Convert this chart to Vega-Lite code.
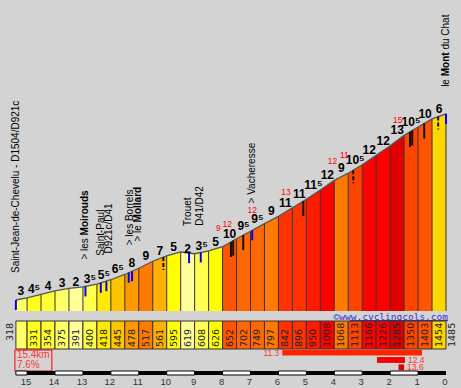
{
  "$schema": "https://vega.github.io/schema/vega-lite/v6.json",
  "background": "#d3d3d3",
  "padding": 0,
  "spacing": 0,
  "bounds": "flush",
  "config": {"view": {"stroke": null}, "axis": {"grid": false}},
  "datasets": {
    "seg": [
      {"k":1,"r0":15.4,"r1":15.0,"a0":318,"a1":331,"g":3,"lbl":"3"},
      {"k":2,"r0":15.0,"r1":14.5,"a0":331,"a1":354,"g":4.5,"lbl":"4⁵"},
      {"k":3,"r0":14.5,"r1":14.0,"a0":354,"a1":375,"g":4,"lbl":"4"},
      {"k":4,"r0":14.0,"r1":13.5,"a0":375,"a1":391,"g":3,"lbl":"3"},
      {"k":5,"r0":13.5,"r1":13.0,"a0":391,"a1":400,"g":2,"lbl":"2"},
      {"k":6,"r0":13.0,"r1":12.5,"a0":400,"a1":418,"g":3.5,"lbl":"3⁵"},
      {"k":7,"r0":12.5,"r1":12.0,"a0":418,"a1":445,"g":5.5,"lbl":"5⁵"},
      {"k":8,"r0":12.0,"r1":11.5,"a0":445,"a1":478,"g":6.5,"lbl":"6⁵"},
      {"k":9,"r0":11.5,"r1":11.0,"a0":478,"a1":517,"g":8,"lbl":"8"},
      {"k":10,"r0":11.0,"r1":10.5,"a0":517,"a1":561,"g":9,"lbl":"9"},
      {"k":11,"r0":10.5,"r1":10.0,"a0":561,"a1":595,"g":7,"lbl":"7"},
      {"k":12,"r0":10.0,"r1":9.5,"a0":595,"a1":619,"g":5,"lbl":"5"},
      {"k":13,"r0":9.5,"r1":9.0,"a0":619,"a1":608,"g":-2,"lbl":"2"},
      {"k":14,"r0":9.0,"r1":8.5,"a0":608,"a1":626,"g":3.5,"lbl":"3⁵"},
      {"k":15,"r0":8.5,"r1":8.0,"a0":626,"a1":652,"g":5,"lbl":"5"},
      {"k":16,"r0":8.0,"r1":7.5,"a0":652,"a1":702,"g":10,"lbl":"10"},
      {"k":17,"r0":7.5,"r1":7.0,"a0":702,"a1":749,"g":9.5,"lbl":"9⁵"},
      {"k":18,"r0":7.0,"r1":6.5,"a0":749,"a1":797,"g":9.5,"lbl":"9⁵"},
      {"k":19,"r0":6.5,"r1":6.0,"a0":797,"a1":842,"g":9,"lbl":"9"},
      {"k":20,"r0":6.0,"r1":5.5,"a0":842,"a1":896,"g":11,"lbl":"11"},
      {"k":21,"r0":5.5,"r1":5.0,"a0":896,"a1":950,"g":11,"lbl":"11"},
      {"k":22,"r0":5.0,"r1":4.5,"a0":950,"a1":1008,"g":11.5,"lbl":"11⁵"},
      {"k":23,"r0":4.5,"r1":4.0,"a0":1008,"a1":1068,"g":12,"lbl":"12"},
      {"k":24,"r0":4.0,"r1":3.5,"a0":1068,"a1":1113,"g":9,"lbl":"9"},
      {"k":25,"r0":3.5,"r1":3.0,"a0":1113,"a1":1166,"g":10.5,"lbl":"10⁵"},
      {"k":26,"r0":3.0,"r1":2.5,"a0":1166,"a1":1226,"g":12,"lbl":"12"},
      {"k":27,"r0":2.5,"r1":2.0,"a0":1226,"a1":1285,"g":12,"lbl":"12"},
      {"k":28,"r0":2.0,"r1":1.5,"a0":1285,"a1":1350,"g":13,"lbl":"13"},
      {"k":29,"r0":1.5,"r1":1.0,"a0":1350,"a1":1403,"g":10.5,"lbl":"10⁵"},
      {"k":30,"r0":1.0,"r1":0.5,"a0":1403,"a1":1454,"g":10,"lbl":"10"},
      {"k":31,"r0":0.5,"r1":0.0,"a0":1454,"a1":1485,"g":6,"lbl":"6"}
    ],
    "prof": [
      {"k":1,"r":15.4,"alt":318,"g":3},{"k":1,"r":15.0,"alt":331,"g":3},
      {"k":2,"r":15.0,"alt":331,"g":4.5},{"k":2,"r":14.5,"alt":354,"g":4.5},
      {"k":3,"r":14.5,"alt":354,"g":4},{"k":3,"r":14.0,"alt":375,"g":4},
      {"k":4,"r":14.0,"alt":375,"g":3},{"k":4,"r":13.5,"alt":391,"g":3},
      {"k":5,"r":13.5,"alt":391,"g":2},{"k":5,"r":13.0,"alt":400,"g":2},
      {"k":6,"r":13.0,"alt":400,"g":3.5},{"k":6,"r":12.5,"alt":418,"g":3.5},
      {"k":7,"r":12.5,"alt":418,"g":5.5},{"k":7,"r":12.0,"alt":445,"g":5.5},
      {"k":8,"r":12.0,"alt":445,"g":6.5},{"k":8,"r":11.5,"alt":478,"g":6.5},
      {"k":9,"r":11.5,"alt":478,"g":8},{"k":9,"r":11.0,"alt":517,"g":8},
      {"k":10,"r":11.0,"alt":517,"g":9},{"k":10,"r":10.5,"alt":561,"g":9},
      {"k":11,"r":10.5,"alt":561,"g":7},{"k":11,"r":10.0,"alt":595,"g":7},
      {"k":12,"r":10.0,"alt":595,"g":5},{"k":12,"r":9.5,"alt":619,"g":5},
      {"k":13,"r":9.5,"alt":619,"g":-2},{"k":13,"r":9.0,"alt":608,"g":-2},
      {"k":14,"r":9.0,"alt":608,"g":3.5},{"k":14,"r":8.5,"alt":626,"g":3.5},
      {"k":15,"r":8.5,"alt":626,"g":5},{"k":15,"r":8.0,"alt":652,"g":5},
      {"k":16,"r":8.0,"alt":652,"g":10},{"k":16,"r":7.5,"alt":702,"g":10},
      {"k":17,"r":7.5,"alt":702,"g":9.5},{"k":17,"r":7.0,"alt":749,"g":9.5},
      {"k":18,"r":7.0,"alt":749,"g":9.5},{"k":18,"r":6.5,"alt":797,"g":9.5},
      {"k":19,"r":6.5,"alt":797,"g":9},{"k":19,"r":6.0,"alt":842,"g":9},
      {"k":20,"r":6.0,"alt":842,"g":11},{"k":20,"r":5.5,"alt":896,"g":11},
      {"k":21,"r":5.5,"alt":896,"g":11},{"k":21,"r":5.0,"alt":950,"g":11},
      {"k":22,"r":5.0,"alt":950,"g":11.5},{"k":22,"r":4.5,"alt":1008,"g":11.5},
      {"k":23,"r":4.5,"alt":1008,"g":12},{"k":23,"r":4.0,"alt":1068,"g":12},
      {"k":24,"r":4.0,"alt":1068,"g":9},{"k":24,"r":3.5,"alt":1113,"g":9},
      {"k":25,"r":3.5,"alt":1113,"g":10.5},{"k":25,"r":3.0,"alt":1166,"g":10.5},
      {"k":26,"r":3.0,"alt":1166,"g":12},{"k":26,"r":2.5,"alt":1226,"g":12},
      {"k":27,"r":2.5,"alt":1226,"g":12},{"k":27,"r":2.0,"alt":1285,"g":12},
      {"k":28,"r":2.0,"alt":1285,"g":13},{"k":28,"r":1.5,"alt":1350,"g":13},
      {"k":29,"r":1.5,"alt":1350,"g":10.5},{"k":29,"r":1.0,"alt":1403,"g":10.5},
      {"k":30,"r":1.0,"alt":1403,"g":10},{"k":30,"r":0.5,"alt":1454,"g":10},
      {"k":31,"r":0.5,"alt":1454,"g":6},{"k":31,"r":0.0,"alt":1485,"g":6}
    ],
    "ticks": [
      {"r":15.4,"alt":318,"kind":"blue"},
      {"r":12.91,"alt":403,"kind":"blue"},
      {"r":12.36,"alt":426,"kind":"blue"},
      {"r":12.16,"alt":436,"kind":"blue"},
      {"r":11.36,"alt":489,"kind":"blue"},
      {"r":11.24,"alt":498,"kind":"blue"},
      {"r":9.2,"alt":612,"kind":"blue"},
      {"r":8.78,"alt":616,"kind":"blue"},
      {"r":6.94,"alt":755,"kind":"blue"},
      {"r":0.0,"alt":1485,"kind":"blue"},
      {"r":7.7,"alt":682,"kind":"black"},
      {"r":7.62,"alt":690,"kind":"black"},
      {"r":7.26,"alt":725,"kind":"black"},
      {"r":5.11,"alt":938,"kind":"black"},
      {"r":1.29,"alt":1372,"kind":"black"},
      {"r":1.21,"alt":1381,"kind":"black"},
      {"r":0.78,"alt":1425,"kind":"black"},
      {"r":10.12,"alt":587,"kind":"dashed"},
      {"r":3.32,"alt":1132,"kind":"dashed"},
      {"r":0.28,"alt":1468,"kind":"dashed"}
    ],
    "peaks": [
      {"r":8.15,"alt":644,"max":9},
      {"r":7.83,"alt":669,"max":12},
      {"r":6.94,"alt":755,"max":12},
      {"r":5.73,"alt":871,"max":13},
      {"r":4.06,"alt":1061,"max":12},
      {"r":3.64,"alt":1100,"max":11},
      {"r":1.73,"alt":1320,"max":15}
    ],
    "places": [
      {"r":15.4,"alt":318,"name":"Saint-Jean-de-Chevelu - D1504/D921c","after":""},
      {"r":12.94,"alt":402,"name":"> les","after":""},
      {"r":12.94,"alt":402,"name":"Moirouds","after":"> les"},
      {"r":12.36,"alt":426,"name":"Saint-Paul","after":""},
      {"r":12.08,"alt":441,"name":"D921c/D41","after":""},
      {"r":11.32,"alt":492,"name":"> les Borrels","after":""},
      {"r":11.03,"alt":515,"name":"> le","after":""},
      {"r":11.03,"alt":515,"name":"Mollard","after":"> le"},
      {"r":9.24,"alt":613,"name":"Trouet","after":""},
      {"r":8.81,"alt":615,"name":"D41/D42","after":""},
      {"r":6.95,"alt":754,"name":"> Vacheresse","after":""},
      {"r":0.0,"alt":1485,"name":"le","after":""},
      {"r":0.0,"alt":1485,"name":"Mont","after":"le"},
      {"r":0.0,"alt":1485,"name":"du Chat","after":"le Mont"}
    ],
    "maxgrad": [
      {"span":"5 km","from":5.86,"to":0.86,"max":11.3},
      {"span":"1 km","from":2.47,"to":1.47,"max":12.4},
      {"span":"200 m","from":1.7,"to":1.5,"max":13.6}
    ],
    "summary": [{"start":15.4,"end":0,"dist":"15.4km","avg":"7.6%"}],
    "kmwhite": [
      {"from":15.4,"to":15},{"from":14,"to":13},{"from":12,"to":11},{"from":10,"to":9},
      {"from":8,"to":7},{"from":6,"to":5},{"from":4,"to":3},{"from":2,"to":1}
    ],
    "km": [
      {"km":0},{"km":1},{"km":2},{"km":3},{"km":4},{"km":5},{"km":6},{"km":7},
      {"km":8},{"km":9},{"km":10},{"km":11},{"km":12},{"km":13},{"km":14},{"km":15}
    ]
  },
  "vconcat": [
    {
      "width": 461,
      "height": 311,
      "layer": [
        {
          "data": {"name": "prof"},
          "mark": {"type": "area", "strokeWidth": 0},
          "encoding": {
            "x": {"field": "r", "type": "quantitative", "scale": {"domain": [15.969, -0.537], "nice": false, "zero": false}, "axis": null},
            "y": {"field": "alt", "type": "quantitative", "stack": null, "scale": {"domain": [249, 2199], "nice": false, "zero": false}, "axis": null},
            "y2": {"datum": 249},
            "color": {"field": "g", "type": "quantitative", "scale": {"type": "linear", "domain": [2, 5, 6, 7, 8, 9, 10, 11, 12, 13], "range": ["#ffff99", "#ffff00", "#ffd700", "#ffb000", "#ff9900", "#ff7a00", "#ff5500", "#ff3300", "#ff0000", "#e00000"], "clamp": true, "interpolate": "rgb"}, "legend": null},
            "detail": {"field": "k", "type": "nominal"}
          }
        },
        {
          "data": {"name": "seg"},
          "mark": {"type": "rule", "color": "#333333", "strokeWidth": 1},
          "encoding": {
            "x": {"field": "r1", "type": "quantitative"},
            "y": {"field": "a1", "type": "quantitative"},
            "y2": {"datum": 249}
          }
        },
        {
          "data": {"name": "prof"},
          "mark": {"type": "line", "color": "#555555", "strokeWidth": 1.3},
          "encoding": {
            "x": {"field": "r", "type": "quantitative"},
            "y": {"field": "alt", "type": "quantitative"}
          }
        },
        {
          "data": {"name": "ticks"},
          "transform": [{"filter": "datum.kind == 'blue'"}],
          "mark": {"type": "rule", "color": "#0000ff", "strokeWidth": 2, "y2Offset": 10},
          "encoding": {
            "x": {"field": "r", "type": "quantitative"},
            "y": {"field": "alt", "type": "quantitative"},
            "y2": {"field": "alt"}
          }
        },
        {
          "data": {"name": "ticks"},
          "transform": [{"filter": "datum.kind == 'black'"}],
          "mark": {"type": "rule", "color": "#111111", "strokeWidth": 2, "y2Offset": 15},
          "encoding": {
            "x": {"field": "r", "type": "quantitative"},
            "y": {"field": "alt", "type": "quantitative"},
            "y2": {"field": "alt"}
          }
        },
        {
          "data": {"name": "ticks"},
          "transform": [{"filter": "datum.kind == 'dashed'"}],
          "mark": {"type": "rule", "color": "#111111", "strokeWidth": 2, "strokeDash": [4, 2], "y2Offset": 13},
          "encoding": {
            "x": {"field": "r", "type": "quantitative"},
            "y": {"field": "alt", "type": "quantitative"},
            "y2": {"field": "alt"}
          }
        },
        {
          "data": {"name": "seg"},
          "transform": [{"filter": "datum.k > 1"}],
          "mark": {"type": "text", "font": "Liberation Sans", "fontWeight": "bold", "fontSize": 12, "color": "#000000", "align": "center", "baseline": "alphabetic", "dx": 7, "dy": -1},
          "encoding": {
            "x": {"field": "r0", "type": "quantitative"},
            "y": {"field": "a1", "type": "quantitative"},
            "text": {"field": "lbl"}
          }
        },
        {
          "data": {"name": "seg"},
          "transform": [{"filter": "datum.k == 1"}],
          "mark": {"type": "text", "font": "Liberation Sans", "fontWeight": "bold", "fontSize": 12, "color": "#000000", "align": "center", "baseline": "alphabetic", "dx": 5, "dy": -3},
          "encoding": {
            "x": {"field": "r0", "type": "quantitative"},
            "y": {"field": "a1", "type": "quantitative"},
            "text": {"field": "lbl"}
          }
        },
        {
          "data": {"name": "peaks"},
          "mark": {"type": "text", "font": "Liberation Sans", "fontSize": 8.5, "color": "#ff0000", "align": "center", "baseline": "middle", "dy": -20},
          "encoding": {
            "x": {"field": "r", "type": "quantitative"},
            "y": {"field": "alt", "type": "quantitative"},
            "text": {"field": "max"}
          }
        },
        {
          "data": {"name": "places"},
          "transform": [{"filter": "datum.after == ''"}],
          "mark": {"type": "text", "font": "Liberation Sans", "fontSize": 10, "color": "#000000", "angle": 270, "align": "left", "baseline": "middle", "dx": 27},
          "encoding": {
            "x": {"field": "r", "type": "quantitative"},
            "y": {"field": "alt", "type": "quantitative"},
            "text": {"field": "name"}
          }
        },
        {
          "data": {"name": "places"},
          "transform": [{"filter": "datum.after == '> les'"}],
          "mark": {"type": "text", "font": "Liberation Sans", "fontSize": 10, "fontWeight": "bold", "color": "#000000", "angle": 270, "align": "left", "baseline": "middle", "dx": 51.2},
          "encoding": {
            "x": {"field": "r", "type": "quantitative"},
            "y": {"field": "alt", "type": "quantitative"},
            "text": {"field": "name"}
          }
        },
        {
          "data": {"name": "places"},
          "transform": [{"filter": "datum.after == '> le'"}],
          "mark": {"type": "text", "font": "Liberation Sans", "fontSize": 10, "fontWeight": "bold", "color": "#000000", "angle": 270, "align": "left", "baseline": "middle", "dx": 46.2},
          "encoding": {
            "x": {"field": "r", "type": "quantitative"},
            "y": {"field": "alt", "type": "quantitative"},
            "text": {"field": "name"}
          }
        },
        {
          "data": {"name": "places"},
          "transform": [{"filter": "datum.after == 'le'"}],
          "mark": {"type": "text", "font": "Liberation Sans", "fontSize": 10, "fontWeight": "bold", "color": "#000000", "angle": 270, "align": "left", "baseline": "middle", "dx": 37.6},
          "encoding": {
            "x": {"field": "r", "type": "quantitative"},
            "y": {"field": "alt", "type": "quantitative"},
            "text": {"field": "name"}
          }
        },
        {
          "data": {"name": "places"},
          "transform": [{"filter": "datum.after == 'le Mont'"}],
          "mark": {"type": "text", "font": "Liberation Sans", "fontSize": 10, "color": "#000000", "angle": 270, "align": "left", "baseline": "middle", "dx": 64.3},
          "encoding": {
            "x": {"field": "r", "type": "quantitative"},
            "y": {"field": "alt", "type": "quantitative"},
            "text": {"field": "name"}
          }
        }
      ]
    },
    {
      "width": 461,
      "height": 9,
      "data": {"values": [{"site": "©www.cyclingcols.com"}]},
      "mark": {"type": "text", "font": "DejaVu Sans Mono", "fontSize": 9.5, "color": "#3333cc", "align": "right", "baseline": "middle", "dx": 2, "dy": 1},
      "encoding": {
        "x": {"datum": 0, "type": "quantitative", "scale": {"domain": [15.969, -0.537], "nice": false, "zero": false}, "axis": null},
        "text": {"field": "site"}
      }
    },
    {
      "width": 461,
      "height": 1,
      "data": {"values": [{}]},
      "mark": {"type": "rect", "color": "#3333cc"},
      "encoding": {
        "x": {"datum": 3.437, "type": "quantitative", "scale": {"domain": [15.969, -0.537], "nice": false, "zero": false}, "axis": null},
        "x2": {"datum": -0.072}
      }
    },
    {
      "width": 461,
      "height": 28,
      "layer": [
        {
          "data": {"name": "seg"},
          "mark": {"type": "rect", "stroke": "#333333", "strokeWidth": 1},
          "encoding": {
            "x": {"field": "r0", "type": "quantitative", "scale": {"domain": [15.969, -0.537], "nice": false, "zero": false}, "axis": null},
            "x2": {"field": "r1"},
            "color": {"field": "g", "type": "quantitative", "scale": {"type": "linear", "domain": [2, 5, 6, 7, 8, 9, 10, 11, 12, 13], "range": ["#ffff99", "#ffff00", "#ffd700", "#ffb000", "#ff9900", "#ff7a00", "#ff5500", "#ff3300", "#ff0000", "#e00000"], "clamp": true, "interpolate": "rgb"}, "legend": null}
          }
        },
        {
          "data": {"name": "seg"},
          "transform": [{"filter": "datum.k > 1"}],
          "mark": {"type": "text", "font": "DejaVu Sans", "fontSize": 9.5, "color": "#222222", "angle": 270, "align": "left", "baseline": "middle", "dx": -12, "dy": 7},
          "encoding": {
            "x": {"field": "r0", "type": "quantitative"},
            "text": {"field": "a0"}
          }
        },
        {
          "data": {"name": "seg"},
          "transform": [{"filter": "datum.k == 1"}],
          "mark": {"type": "text", "font": "DejaVu Sans", "fontSize": 9.5, "color": "#222222", "angle": 270, "align": "left", "baseline": "middle", "dx": -6, "dy": -6},
          "encoding": {
            "x": {"field": "r0", "type": "quantitative"},
            "text": {"field": "a0"}
          }
        },
        {
          "data": {"name": "seg"},
          "transform": [{"filter": "datum.k == 31"}],
          "mark": {"type": "text", "font": "DejaVu Sans", "fontSize": 9.5, "color": "#222222", "angle": 270, "align": "left", "baseline": "middle", "dx": -12, "dy": 6},
          "encoding": {
            "x": {"field": "r1", "type": "quantitative"},
            "text": {"field": "a1"}
          }
        }
      ]
    },
    {
      "width": 461,
      "height": 22,
      "layer": [
        {
          "data": {"name": "maxgrad"},
          "mark": {"type": "bar"},
          "encoding": {
            "x": {"field": "from", "type": "quantitative", "scale": {"domain": [15.969, -0.537], "nice": false, "zero": false}, "axis": null},
            "x2": {"field": "to"},
            "y": {"field": "span", "type": "nominal", "sort": ["5 km", "1 km", "200 m"], "scale": {"paddingInner": 0.2, "paddingOuter": 0.1}, "axis": null},
            "color": {"field": "max", "type": "quantitative", "scale": {"type": "linear", "domain": [2, 5, 6, 7, 8, 9, 10, 11, 12, 13], "range": ["#ffff99", "#ffff00", "#ffd700", "#ffb000", "#ff9900", "#ff7a00", "#ff5500", "#ff3300", "#ff0000", "#e00000"], "clamp": true, "interpolate": "rgb"}, "legend": null}
          }
        },
        {
          "data": {"name": "maxgrad"},
          "transform": [{"filter": "datum.span == '5 km'"}],
          "mark": {"type": "text", "font": "Liberation Sans", "fontSize": 8.5, "color": "#ff3333", "align": "right", "baseline": "middle", "dx": -3},
          "encoding": {
            "x": {"field": "from", "type": "quantitative"},
            "y": {"field": "span", "type": "nominal", "sort": ["5 km", "1 km", "200 m"]},
            "text": {"field": "max", "format": ".1f"}
          }
        },
        {
          "data": {"name": "maxgrad"},
          "transform": [{"filter": "datum.span != '5 km'"}],
          "mark": {"type": "text", "font": "Liberation Sans", "fontSize": 8.5, "color": "#ff3333", "align": "left", "baseline": "middle", "dx": 3},
          "encoding": {
            "x": {"field": "to", "type": "quantitative"},
            "y": {"field": "span", "type": "nominal", "sort": ["5 km", "1 km", "200 m"]},
            "text": {"field": "max", "format": ".1f"}
          }
        },
        {
          "data": {"name": "summary"},
          "mark": {"type": "rect", "filled": false, "color": "#ff0000", "strokeWidth": 1, "xOffset": -1, "x2Offset": 36, "yOffset": 1, "y2Offset": -1},
          "encoding": {
            "x": {"field": "start", "type": "quantitative"},
            "x2": {"field": "start"}
          }
        },
        {
          "data": {"name": "summary"},
          "mark": {"type": "text", "font": "Liberation Sans", "fontSize": 10, "color": "#ff3333", "align": "left", "baseline": "middle", "dx": 1, "dy": -5},
          "encoding": {
            "x": {"field": "start", "type": "quantitative"},
            "text": {"field": "dist"}
          }
        },
        {
          "data": {"name": "summary"},
          "mark": {"type": "text", "font": "Liberation Sans", "fontSize": 10, "color": "#ff3333", "align": "left", "baseline": "middle", "dx": 1, "dy": 5},
          "encoding": {
            "x": {"field": "start", "type": "quantitative"},
            "text": {"field": "avg"}
          }
        }
      ]
    },
    {
      "width": 461,
      "height": 4,
      "layer": [
        {
          "data": {"name": "summary"},
          "mark": {"type": "rect", "color": "#000000"},
          "encoding": {
            "x": {"field": "start", "type": "quantitative", "scale": {"domain": [15.969, -0.537], "nice": false, "zero": false}, "axis": null},
            "x2": {"field": "end"}
          }
        },
        {
          "data": {"name": "kmwhite"},
          "mark": {"type": "rect", "fill": "#ffffff", "stroke": "#000000", "strokeWidth": 1},
          "encoding": {
            "x": {"field": "from", "type": "quantitative"},
            "x2": {"field": "to"}
          }
        }
      ]
    },
    {
      "width": 461,
      "height": 13,
      "data": {"name": "km"},
      "mark": {"type": "text", "font": "Liberation Sans", "fontSize": 9.5, "color": "#333333", "align": "center", "baseline": "middle", "dx": -1, "dy": 0},
      "encoding": {
        "x": {"field": "km", "type": "quantitative", "scale": {"domain": [15.969, -0.537], "nice": false, "zero": false}, "axis": null},
        "text": {"field": "km"}
      }
    }
  ]
}
